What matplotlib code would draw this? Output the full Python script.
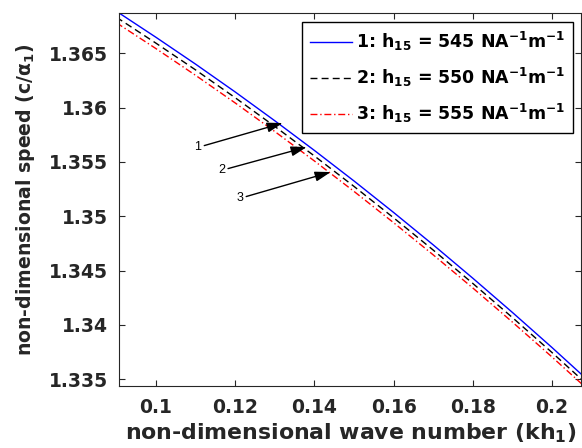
import matplotlib
matplotlib.use("Agg")
import matplotlib.pyplot as plt

# Non-dimensional wave number (kh1)
kh = [0.09, 0.10, 0.11, 0.12, 0.13, 0.14, 0.15, 0.16, 0.17, 0.18, 0.19, 0.20, 0.21]

# Non-dimensional phase speed c/alpha1 for three values of h15
speed_545 = [1.36887, 1.36647, 1.36400, 1.36144, 1.35879, 1.35606, 1.35325,
             1.35035, 1.34737, 1.34430, 1.34115, 1.33792, 1.33460]
speed_550 = [1.36832, 1.36593, 1.36347, 1.36091, 1.35827, 1.35555, 1.35275,
             1.34986, 1.34689, 1.34382, 1.34068, 1.33746, 1.33415]
speed_555 = [1.36781, 1.36543, 1.36297, 1.36043, 1.35780, 1.35509, 1.35229,
             1.34941, 1.34645, 1.34340, 1.34026, 1.33705, 1.33375]

labels = [r"1: h$_{15}$ = 545 NA$^{-1}$m$^{-1}$",
          r"2: h$_{15}$ = 550 NA$^{-1}$m$^{-1}$",
          r"3: h$_{15}$ = 555 NA$^{-1}$m$^{-1}$"]

xticks = [0.1, 0.12, 0.14, 0.16, 0.18, 0.2]
xticklabels = ["0.1", "0.12", "0.14", "0.16", "0.18", "0.2"]
yticks = [1.335, 1.34, 1.345, 1.35, 1.355, 1.36, 1.365]
yticklabels = ["1.335", "1.34", "1.345", "1.35", "1.355", "1.36", "1.365"]

# curve markers: (label, arrow tip on curve, label position)
markers = [("1", (0.1320, 1.35858), (0.1106, 1.35634)),
           ("2", (0.13806, 1.35637), (0.1166, 1.35423)),
           ("3", (0.14412, 1.35407), (0.1212, 1.35165))]

plt.rcParams["font.family"] = "DejaVu Sans"
plt.rcParams["font.weight"] = "bold"
plt.rcParams["mathtext.default"] = "bf"

dark = "#262626"

fig = plt.figure(figsize=(5.82, 4.48), dpi=100)
ax = fig.add_axes([0.2053, 0.1391, 0.9983 - 0.2053, 0.9703 - 0.1391])

ax.plot(kh, speed_545, color="#0000ff", lw=1.0, ls="-", label=labels[0])
ax.plot(kh, speed_550, color="black", lw=1.0, ls=(0, (5, 3)), label=labels[1])
ax.plot(kh, speed_555, color="#ff0000", lw=1.0, ls=(0, (5, 2, 1, 2)), label=labels[2])

ax.set_xlim(0.09078, 0.20732)
ax.set_ylim(1.33441, 1.36868)
ax.set_xticks(xticks)
ax.set_xticklabels(xticklabels)
ax.set_yticks(yticks)
ax.set_yticklabels(yticklabels)
ax.tick_params(direction="in", length=4, width=0.8, colors=dark,
               labelsize=13.5, top=True, right=True)
ax.tick_params(axis="x", pad=9)
ax.tick_params(axis="y", pad=8)
for lab in ax.get_xticklabels() + ax.get_yticklabels():
    lab.set_fontweight("bold")
for sp in ax.spines.values():
    sp.set_color(dark)
    sp.set_linewidth(0.8)

ax.set_xlabel(r"non-dimensional wave number (kh$_1$)", fontsize=15.8,
              fontweight="bold", labelpad=3, color=dark)
ax.set_ylabel(r"non-dimensional speed (c/$\alpha_1$)", fontsize=13.6,
              fontweight="bold", labelpad=9, color=dark)

for txt, tip, pos in markers:
    ax.annotate(txt, xy=tip, xytext=pos, fontsize=9, fontweight="normal",
                family="Liberation Sans", ha="center", va="center",
                arrowprops=dict(arrowstyle="-|>,head_length=0.95,head_width=0.3",
                                color="black", lw=1.0, mutation_scale=10,
                                shrinkA=0, shrinkB=0))

leg = ax.legend(loc="upper right", bbox_to_anchor=(0.9827, 0.9766),
                borderaxespad=0, fancybox=False, framealpha=1,
                edgecolor="black", fontsize=12.5, handlelength=2.45,
                handletextpad=0.2, labelspacing=0.75, borderpad=0.45)
leg.get_frame().set_linewidth(1.0)
for t in leg.get_texts():
    t.set_fontweight("bold")

fig.savefig("out.png", dpi=100)
